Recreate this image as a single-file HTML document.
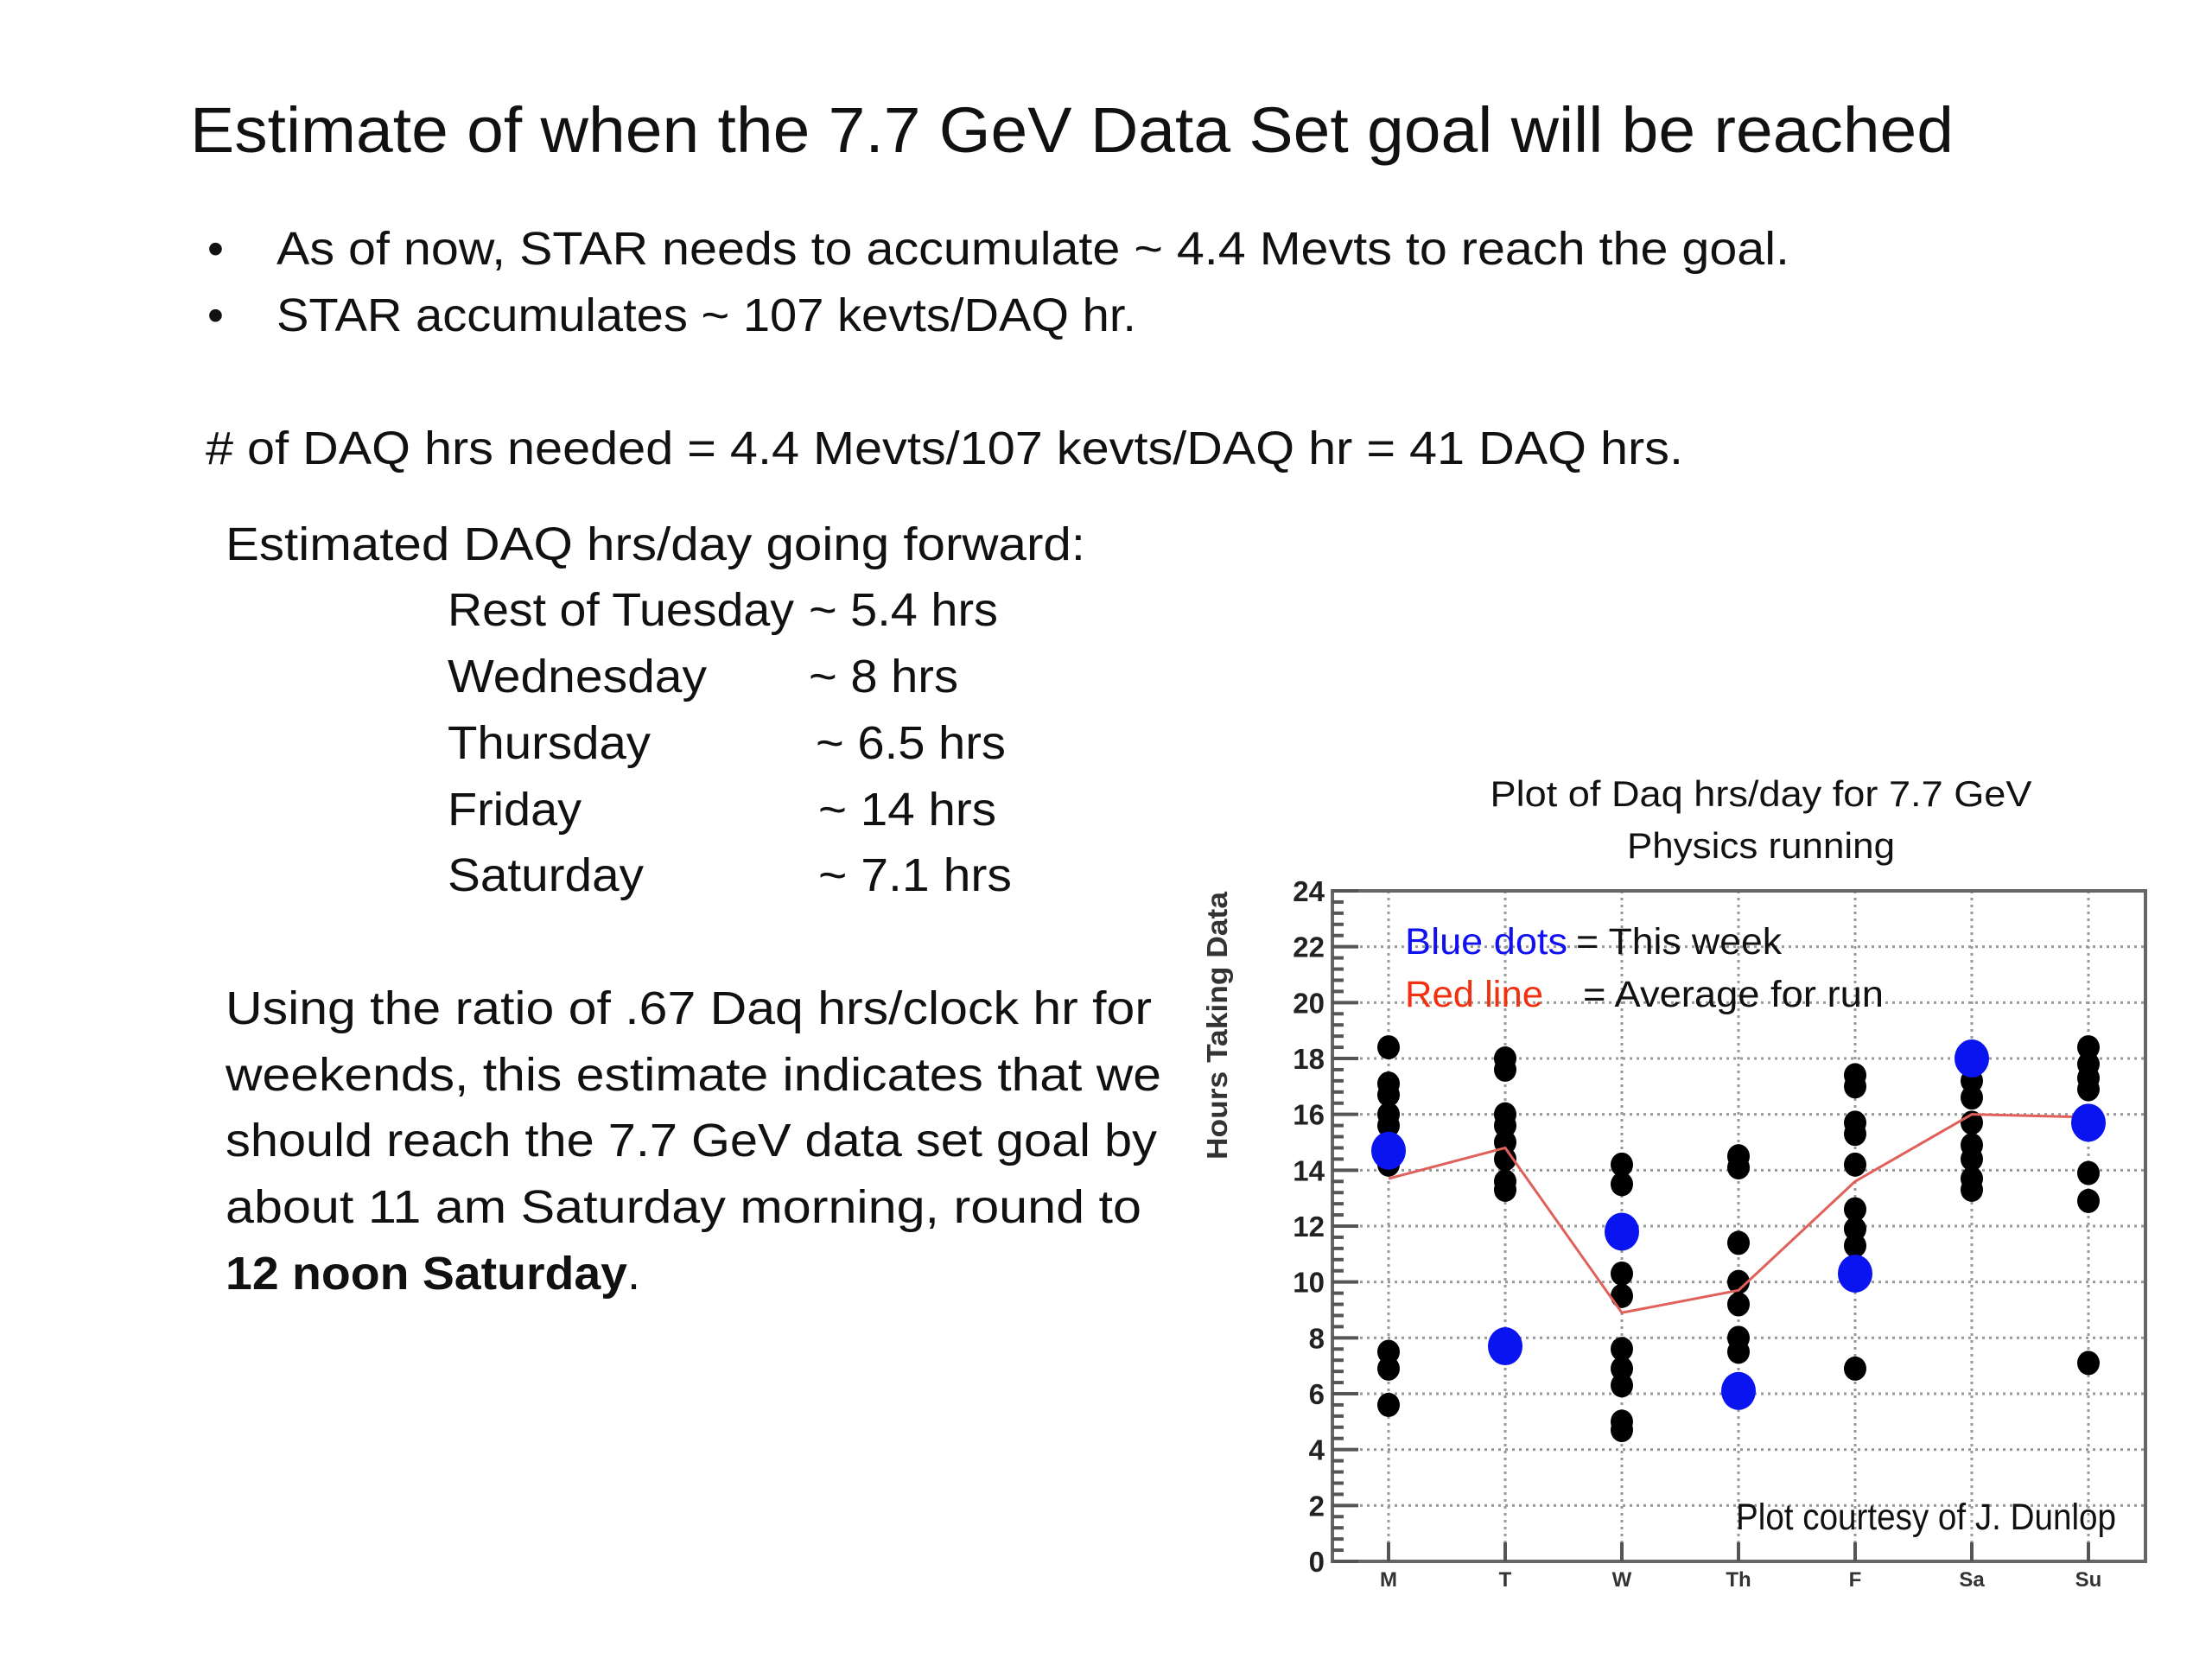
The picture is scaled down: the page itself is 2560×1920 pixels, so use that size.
<!DOCTYPE html>
<html><head><meta charset="utf-8">
<style>
html,body{margin:0;padding:0;background:#fff;}
svg{display:block;}
text{font-family:"Liberation Sans",sans-serif;}
</style></head>
<body>
<svg id="slide" width="2560" height="1920" viewBox="0 0 2560 1920" xmlns="http://www.w3.org/2000/svg">
<rect width="2560" height="1920" fill="#fff"/>
<text x="220" y="176" font-size="74" textLength="2041" lengthAdjust="spacingAndGlyphs" fill="#111">Estimate of when the 7.7 GeV Data Set goal will be reached</text>
<g font-size="54" fill="#111">
<text x="240" y="306">•</text>
<text x="320" y="306" textLength="1751" lengthAdjust="spacingAndGlyphs">As of now, STAR needs to accumulate ~ 4.4 Mevts to reach the goal.</text>
<text x="240" y="383">•</text>
<text x="320" y="383" textLength="995" lengthAdjust="spacingAndGlyphs">STAR accumulates ~ 107 kevts/DAQ hr.</text>
</g>
<text x="238" y="537" font-size="54" fill="#111" textLength="1710" lengthAdjust="spacingAndGlyphs"># of DAQ hrs needed = 4.4 Mevts/107 kevts/DAQ hr = 41 DAQ hrs.</text>
<g font-size="54" fill="#111">
<text x="261" y="648" textLength="995" lengthAdjust="spacingAndGlyphs">Estimated DAQ hrs/day going forward:</text>
<text x="518" y="724" textLength="401" lengthAdjust="spacingAndGlyphs">Rest of Tuesday</text>
<text x="936" y="724" textLength="219" lengthAdjust="spacingAndGlyphs">~ 5.4 hrs</text>
<text x="518" y="801" textLength="300" lengthAdjust="spacingAndGlyphs">Wednesday</text>
<text x="936" y="801" textLength="173" lengthAdjust="spacingAndGlyphs">~ 8 hrs</text>
<text x="518" y="878" textLength="235" lengthAdjust="spacingAndGlyphs">Thursday</text>
<text x="944" y="878" textLength="220" lengthAdjust="spacingAndGlyphs">~ 6.5 hrs</text>
<text x="518" y="955" textLength="155" lengthAdjust="spacingAndGlyphs">Friday</text>
<text x="947" y="955" textLength="206" lengthAdjust="spacingAndGlyphs">~ 14 hrs</text>
<text x="518" y="1031" textLength="227" lengthAdjust="spacingAndGlyphs">Saturday</text>
<text x="947" y="1031" textLength="224" lengthAdjust="spacingAndGlyphs">~ 7.1 hrs</text>
</g>
<g font-size="54" fill="#111">
<text x="261" y="1185" textLength="1072" lengthAdjust="spacingAndGlyphs">Using the ratio of .67 Daq hrs/clock hr for</text>
<text x="261" y="1262" textLength="1083" lengthAdjust="spacingAndGlyphs">weekends, this estimate indicates that we</text>
<text x="261" y="1338" textLength="1078" lengthAdjust="spacingAndGlyphs">should reach the 7.7 GeV data set goal by</text>
<text x="261" y="1415" textLength="1060" lengthAdjust="spacingAndGlyphs">about 11 am Saturday morning, round to</text>
<text x="261" y="1492"><tspan font-weight="bold" textLength="465" lengthAdjust="spacingAndGlyphs">12 noon Saturday</tspan><tspan>.</tspan></text>
</g>
<g font-size="42" fill="#111" text-anchor="middle">
<text x="2038" y="933" textLength="627" lengthAdjust="spacingAndGlyphs">Plot of Daq hrs/day for 7.7 GeV</text>
<text x="2038" y="993" textLength="310" lengthAdjust="spacingAndGlyphs">Physics running</text>
</g>
<g id="chart"></g>
</svg>
<script>
var categories = ["M","T","W","Th","F","Sa","Su"];
var yTicks = [0,2,4,6,8,10,12,14,16,18,20,22,24];
var blackDots = [
  [18.4,17.1,16.7,16.0,15.6,14.2,7.5,6.9,5.6],
  [18.0,17.6,16.0,15.6,15.0,14.4,13.6,13.3],
  [14.2,13.5,10.3,9.5,7.6,6.9,6.3,5.0,4.7],
  [14.5,14.1,11.4,10.0,9.2,8.0,7.5],
  [17.4,17.0,15.7,15.3,14.2,12.6,11.9,11.3,6.9],
  [17.2,16.6,15.7,14.9,14.4,13.7,13.3],
  [18.4,17.8,17.3,16.9,13.9,12.9,7.1]
];
var blueDots = [14.7,7.7,11.8,6.1,10.3,18.0,15.7];
var averageLine = [13.7,14.8,8.9,9.7,13.6,16.0,15.9];

var NS = "http://www.w3.org/2000/svg";
var L = 1542, R = 2483, T = 1031, B = 1807;
function xPos(i){ return 1607 + i * (2417 - 1607) / 6; }
function yPos(v){ return B - v * (B - T) / 24; }
var g = document.getElementById("chart");
function mk(tag, attrs, parent){
  var e = document.createElementNS(NS, tag);
  for (var k in attrs) e.setAttribute(k, attrs[k]);
  (parent || g).appendChild(e);
  return e;
}
// grid
var grid = mk("g", {stroke:"#999", "stroke-width":"3", "stroke-dasharray":"3 5"});


yTicks.forEach(function(v){
  if (v === 0 || v === 24) return;
  var ln = mk("line", {x1:L, x2:R, y1:yPos(v), y2:yPos(v)}, grid);
  
  
});
categories.forEach(function(c, i){
  var ln = mk("line", {x1:xPos(i), x2:xPos(i), y1:T, y2:B}, grid);
  
  
});
// frame
var frame = mk("rect", {x:L, y:T, width:R-L, height:B-T, fill:"none", stroke:"#666", "stroke-width":"4"});


// y ticks
var yAxis = mk("g", {stroke:"#555", "stroke-width":"4"});


for (var k = 0; k <= 60; k++) {
  var v = k * 0.4;
  var major = (k % 5 === 0);
  var tk = mk("line", {x1:L, x2:L + (major ? 30 : 13), y1:yPos(v), y2:yPos(v)}, yAxis);
  
  
}
yTicks.forEach(function(v){
  var t = mk("text", {x:1533, y:yPos(v)+12, "font-size":"33", "font-weight":"bold", "text-anchor":"end", fill:"#222"});
  
  
  t.textContent = v;
});
// x ticks and labels
categories.forEach(function(c, i){
  var tk = mk("line", {x1:xPos(i), x2:xPos(i), y1:B, y2:B-22, stroke:"#555", "stroke-width":"4"});
  
  
  var t = mk("text", {x:xPos(i), y:1836, "font-size":"24", "font-weight":"bold", "text-anchor":"middle", fill:"#333"});
  
  
  t.textContent = c;
});
// y axis title
var yt = mk("text", {x:0, y:0, "font-size":"33", "font-weight":"bold", "text-anchor":"middle", fill:"#333", transform:"translate(1420,1187) rotate(-90)", textLength:"310", lengthAdjust:"spacingAndGlyphs"});


yt.textContent = "Hours Taking Data";
// black dots
blackDots.forEach(function(arr, i){
  arr.forEach(function(v){
    var c = mk("ellipse", {cx:xPos(i), cy:yPos(v), rx:13, ry:14, fill:"#000"});
    
    
  });
});
// average line
var pts = averageLine.map(function(v, i){ return xPos(i) + "," + yPos(v); }).join(" ");
var pl = mk("polyline", {points:pts, fill:"none", stroke:"#e0605a", "stroke-width":"3"});


// blue dots
blueDots.forEach(function(v, i){
  var c = mk("ellipse", {cx:xPos(i), cy:yPos(v), rx:20, ry:22, fill:"#0a14f0"});
  
  
});
// legend
var lg = mk("g", {"font-size":"43"});


var items = [
  ["Blue dots", "#1010f0", 1626, 1104, 188, "legend-blue-label"],
  ["= This week", "#111", 1824, 1104, 238, "legend-blue-desc"],
  ["Red line", "#f03010", 1626, 1165, 160, "legend-red-label"],
  ["= Average for run", "#111", 1832, 1165, 348, "legend-red-desc"],
  ["Plot courtesy of J. Dunlop", "#111", 2009, 1770, 440, "plot-credit"]
];
items.forEach(function(it){
  var t = mk("text", {x:it[2], y:it[3], fill:it[1], textLength:it[4], lengthAdjust:"spacingAndGlyphs"}, lg);
  
  
  t.textContent = it[0];
});
</script>
</body></html>
